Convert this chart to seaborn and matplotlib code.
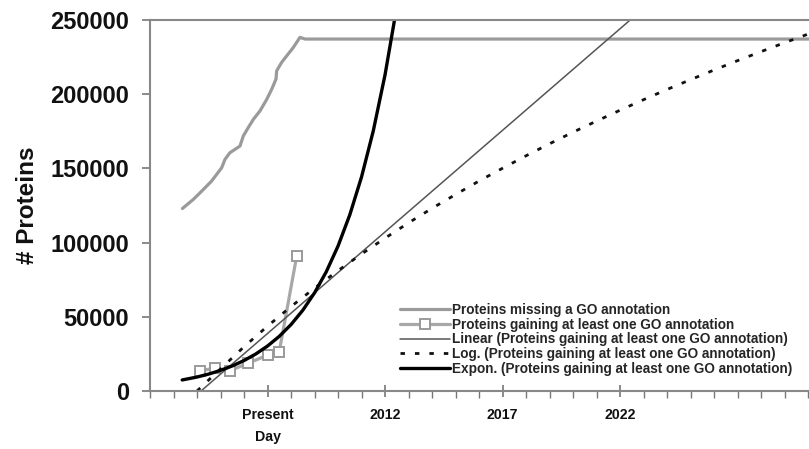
import numpy as np
import pandas as pd
import matplotlib
matplotlib.use("Agg")
import matplotlib.pyplot as plt
import seaborn as sns

# ---- data ----
missing_years = [2003.38, 2003.84, 2004.20, 2004.62, 2005.05, 2005.19, 2005.40, 2005.62,
                 2005.83, 2005.97, 2006.18, 2006.40, 2006.68, 2006.97, 2007.18, 2007.36,
                 2007.39, 2007.60, 2007.82, 2008.10, 2008.38, 2008.60, 2030.04]
missing_values = [122970, 129050, 134680, 141440, 150450, 156080, 160590, 162840,
                  165090, 171850, 177480, 183110, 188740, 196620, 203380, 210140,
                  215770, 221400, 225900, 231530, 238290, 237160, 237160]

gaining_years = [2004.13, 2004.77, 2005.40, 2006.18, 2007.02, 2007.50, 2008.24]
gaining_values = [13720, 15340, 13720, 18720, 24320, 26550, 90740]

linear_years = [2004.17, 2022.43]
linear_values = [0, 250000]

log_years = [2004, 2005, 2006, 2007, 2008, 2009, 2010, 2011, 2012, 2013, 2014, 2015,
             2016, 2017, 2018, 2019, 2020, 2021, 2022, 2023, 2024, 2025, 2026, 2027,
             2028, 2029, 2030]
log_values = [0, 14900, 29800, 43700, 56900, 69300, 81100, 92300, 103000, 113300,
              123100, 132400, 141500, 150100, 158500, 166600, 174400, 181900, 189200,
              196300, 203200, 209800, 216300, 222600, 228700, 234700, 240500]

exp_years = [2003.37, 2004, 2004.5, 2005, 2005.5, 2006, 2006.5, 2007, 2007.5, 2008,
             2008.5, 2009, 2009.5, 2010, 2010.5, 2011, 2011.5, 2012, 2012.5]
exp_values = [7440, 9410, 11430, 13890, 16880, 20520, 24940, 30300, 36830, 44750,
              54390, 66110, 80340, 97640, 118660, 144200, 175250, 213000, 258850]

tick_years = [2007, 2012, 2017, 2022]
tick_labels = ["Present\nDay", "2012", "2017", "2022"]

labels = [
    "Proteins missing a GO annotation",
    "Proteins gaining at least one GO annotation",
    "Linear (Proteins gaining at least one GO annotation)",
    "Log. (Proteins gaining at least one GO annotation)",
    "Expon. (Proteins gaining at least one GO annotation)",
]

# ---- style ----
sns.set_style("white")
plt.rcParams["font.family"] = ["Liberation Sans", "DejaVu Sans"]
plt.rcParams["font.weight"] = "bold"

fig = plt.figure(figsize=(8.09, 4.49), dpi=100)
ax = fig.add_axes([150 / 809, 58 / 449, 659 / 809, 371 / 449])

df_missing = pd.DataFrame({"year": missing_years, "n": missing_values})
df_gain = pd.DataFrame({"year": gaining_years, "n": gaining_values})
df_lin = pd.DataFrame({"year": linear_years, "n": linear_values})
df_log = pd.DataFrame({"year": log_years, "n": log_values})
df_exp = pd.DataFrame({"year": exp_years, "n": exp_values})

sns.lineplot(data=df_missing, x="year", y="n", ax=ax, color="#9a9a9a", lw=2.3,
             label=labels[0])
sns.lineplot(data=df_gain, x="year", y="n", ax=ax, color="#a8a8a8", lw=2.3,
             marker="s", markersize=7.5, markerfacecolor="white",
             markeredgecolor="#9a9a9a", markeredgewidth=1.4, label=labels[1])
sns.lineplot(data=df_lin, x="year", y="n", ax=ax, color="#555555", lw=1.1,
             label=labels[2])
sns.lineplot(data=df_log, x="year", y="n", ax=ax, color="#111111", lw=2.0,
             linestyle=(0, (1.6, 3.6)), label=labels[3])
sns.lineplot(data=df_exp, x="year", y="n", ax=ax, color="#000000", lw=2.4,
             label=labels[4])

ax.set_xlim(2002, 2030.04)
ax.set_ylim(0, 250000)

ax.set_xticks(tick_years)
ax.set_xticklabels(tick_labels, fontsize=10.2, fontweight="bold", linespacing=1.8)
ax.set_xticks(np.arange(2002, 2031, 1), minor=True)
ax.set_yticks(np.arange(0, 250001, 50000))
ax.set_yticklabels([f"{v}" for v in range(0, 250001, 50000)], fontsize=17,
                   fontweight="bold")

ax.tick_params(axis="x", which="both", bottom=True)
ax.tick_params(axis="x", which="major", direction="inout", length=9, width=1.2,
               color="#777777", pad=7.5, labelcolor="#111111")
ax.tick_params(axis="x", which="minor", direction="out", length=5, width=1.0,
               color="#777777")
ax.tick_params(axis="y", which="major", left=True, direction="out", length=6,
               width=1.2, color="#777777", pad=9, labelcolor="#111111")

for side in ["left", "bottom", "top"]:
    ax.spines[side].set_visible(True)
    ax.spines[side].set_color("#888888")
    ax.spines[side].set_linewidth(1.5)
ax.spines["right"].set_visible(False)

ax.set_xlabel("")
ax.set_ylabel("# Proteins", fontsize=17.5, fontweight="bold", color="#111111",
              labelpad=8)

leg = ax.legend(loc="lower right", bbox_to_anchor=(0.985, 0.022), frameon=False,
                prop={"weight": "bold", "size": 9.8}, handlelength=3.7,
                handletextpad=0.15, labelspacing=0.06, borderpad=0.0)

fig.savefig("out.png", dpi=100)
